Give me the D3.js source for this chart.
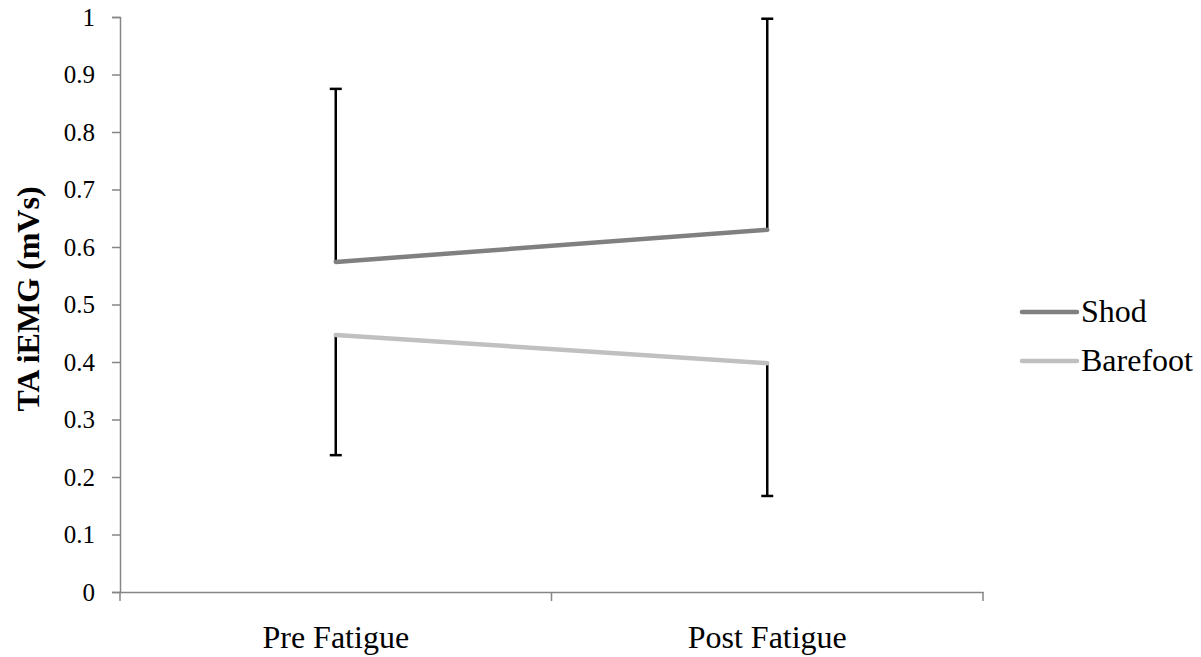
<!DOCTYPE html>
<html>
<head>
<meta charset="utf-8">
<script src="https://cdn.jsdelivr.net/npm/d3@7"></script>
<style>
  body { margin: 0; background: #fff; }
  text { font-family: "Liberation Serif", "Times New Roman", serif; }
</style>
</head>
<body>
<svg id="chart" width="1201" height="657"></svg>
<script>
var categories = ["Pre Fatigue", "Post Fatigue"];
var seriesNames = ["Shod", "Barefoot"];
var shodValues = [0.574, 0.630];
var barefootValues = [0.447, 0.398];
// one-sided error bars: shod up, barefoot down
var shodErr = [0.301, 0.367];
var barefootErr = [0.209, 0.231];
var yTicks = [0, 0.1, 0.2, 0.3, 0.4, 0.5, 0.6, 0.7, 0.8, 0.9, 1];

var svg = d3.select("#chart"),
    plotLeft = 120, plotRight = 983, plotTop = 17, plotBottom = 592;

var x = d3.scaleBand().domain(categories).range([plotLeft, plotRight]);
var y = d3.scaleLinear().domain([0, 1]).range([plotBottom, plotTop]);

var series = [
  {name: seriesNames[0], values: shodValues, err: shodErr, dir: 1, color: "#808080"},
  {name: seriesNames[1], values: barefootValues, err: barefootErr, dir: -1, color: "#c0c0c0"}
];

// y axis
var yAxis = svg.append("g")
  .attr("transform", "translate(" + plotLeft + ",0)")
  .call(d3.axisLeft(y).tickValues(yTicks).tickSize(8).tickPadding(17)
    .tickFormat(function(d) { return d === 0 ? "0" : d === 1 ? "1" : d3.format(".1f")(d); }));
yAxis.select(".domain").attr("stroke", "#868686").attr("stroke-width", 1.5);
yAxis.selectAll(".tick line").attr("stroke", "#868686").attr("stroke-width", 1.5);
yAxis.selectAll(".tick text").attr("font-size", 25).attr("fill", "#000")
  .style("font-family", "Liberation Serif");

// x axis
var xAxis = svg.append("g")
  .attr("transform", "translate(0," + plotBottom + ")")
  .call(d3.axisBottom(x).tickSize(0).tickPadding(0));
xAxis.select(".domain").attr("stroke", "#868686").attr("stroke-width", 1.5);
xAxis.selectAll(".tick text")
  .attr("font-size", 32).attr("fill", "#000").attr("y", 56).attr("dy", 0)
  .style("font-family", "Liberation Serif");
// boundary ticks between categories
var xBounds = [plotLeft, plotLeft + x.bandwidth(), plotRight];
svg.append("g").selectAll("line").data(xBounds).enter().append("line")
  .attr("x1", function(d) { return d; }).attr("x2", function(d) { return d; })
  .attr("y1", plotBottom).attr("y2", plotBottom + 9)
  .attr("stroke", "#868686").attr("stroke-width", 1.5);

// y title
svg.append("text")
  .attr("transform", "translate(39,299) rotate(-90)")
  .attr("text-anchor", "middle")
  .attr("font-size", 32).attr("font-weight", "bold")
  .text("TA iEMG (mVs)");

var cx = function(i) { return x(categories[i]) + x.bandwidth() / 2; };

// error bars
series.forEach(function(s) {
  var g = svg.append("g");
  s.values.forEach(function(v, i) {
    var end = v + s.dir * s.err[i];
    g.append("line")
      .attr("x1", cx(i)).attr("x2", cx(i))
      .attr("y1", y(v)).attr("y2", y(end))
      .attr("stroke", "#000").attr("stroke-width", 2.5);
    g.append("line")
      .attr("x1", cx(i) - 6).attr("x2", cx(i) + 6)
      .attr("y1", y(end)).attr("y2", y(end))
      .attr("stroke", "#000").attr("stroke-width", 2.5);
  });
});

// lines
var line = d3.line()
  .x(function(d, i) { return cx(i); })
  .y(function(d) { return y(d); });

series.forEach(function(s) {
  svg.append("path")
    .datum(s.values)
    .attr("d", line)
    .attr("fill", "none")
    .attr("stroke", s.color)
    .attr("stroke-width", 4.5)
    .attr("stroke-linecap", "round");
});

// legend
var legend = svg.append("g").selectAll("g").data(series).enter().append("g")
  .attr("transform", function(d, i) { return "translate(1022," + (312 + i * 49) + ")"; });
legend.append("line")
  .attr("x1", 0).attr("x2", 55)
  .attr("stroke", function(d) { return d.color; })
  .attr("stroke-width", 4.5).attr("stroke-linecap", "round");
legend.append("text")
  .attr("x", 59).attr("y", 10)
  .attr("font-size", 32)
  .text(function(d) { return d.name; });
</script>
</body>
</html>
